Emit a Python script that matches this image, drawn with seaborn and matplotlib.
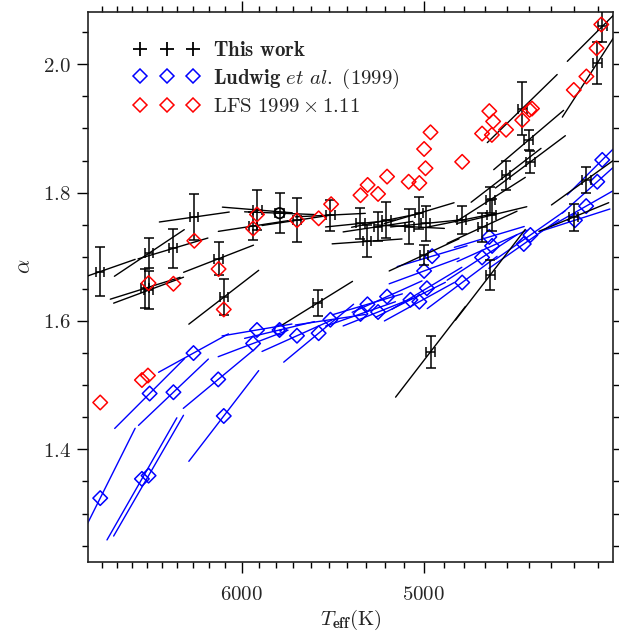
import numpy as np
import pandas as pd
import matplotlib
matplotlib.use("Agg")
import matplotlib.pyplot as plt
import seaborn as sns
from matplotlib.ticker import FixedLocator, FuncFormatter, NullFormatter, MultipleLocator
from matplotlib.lines import Line2D

# ---------------- data ----------------
# "This work": Teff, alpha, alpha error, Teff error, local slope d(alpha)/d(log10 Teff)
tw_teff = [6914, 6582, 6428, 6292, 6609, 6587, 6141, 6109, 5907, 5931, 5777, 5677,
           5490, 5561, 4530, 4501, 4493, 4604, 4202, 4181, 4248, 4677, 5327, 5292,
           5234, 5190, 5072, 5023, 4991, 4998, 4814, 4716, 4670, 4677, 4966, 4302]
tw_alpha = [1.677, 1.706, 1.713, 1.762, 1.651, 1.648, 1.697, 1.637, 1.773, 1.748, 1.768, 1.757,
            1.765, 1.628, 1.931, 1.882, 1.848, 1.827, 2.002, 2.059, 1.820, 1.789, 1.752, 1.724,
            1.747, 1.757, 1.747, 1.768, 1.752, 1.703, 1.757, 1.746, 1.765, 1.672, 1.552, 1.762]
tw_alpha_err = [0.038, 0.023, 0.030, 0.036, 0.030, 0.030, 0.026, 0.028, 0.031, 0.022, 0.031, 0.034,
                0.024, 0.020, 0.041, 0.016, 0.017, 0.023, 0.033, 0.025, 0.020, 0.020, 0.024, 0.025,
                0.023, 0.028, 0.027, 0.025, 0.027, 0.016, 0.022, 0.023, 0.025, 0.023, 0.025, 0.021]
tw_teff_err = [28, 27, 27, 26, 27, 27, 26, 26, 25, 25, 24, 24,
               23, 23, 20, 20, 20, 20, 19, 19, 19, 21, 22, 22,
               22, 22, 21, 21, 21, 21, 21, 21, 21, 21, 21, 19]
tw_slope = [-1.25, -2.39, -1.07, -0.51, -1.12, -1.33, -1.39, -2.76, 0.29, -0.55, 0.14, -0.54,
            -0.18, -2.22, -3.49, -3.04, -2.68, -2.76, -5.55, -3.58, -2.58, -2.29, -0.36, -0.25,
            -0.54, -0.72, 0.18, -1.07, -0.36, -1.65, -0.72, -1.65, -0.86, -4.65, -4.65, -1.47]

# Ludwig et al. (1999)
lu_teff = [6914, 6631, 6587, 6580, 6425, 6143, 6109, 6297, 5909, 5932, 5777, 5677, 5555,
           5490, 5327, 5290, 5234, 5187, 5067, 5022, 4984, 4998, 4958, 4811, 4716, 4682,
           4669, 4523, 4493, 4297, 4249, 4202, 4181]
lu_alpha = [1.324, 1.354, 1.359, 1.487, 1.489, 1.509, 1.452, 1.550, 1.586, 1.565, 1.586, 1.577, 1.581,
            1.602, 1.611, 1.626, 1.614, 1.638, 1.633, 1.630, 1.651, 1.678, 1.701, 1.660, 1.699, 1.731,
            1.717, 1.720, 1.734, 1.757, 1.779, 1.817, 1.851]
lu_slope = [-7.16, -6.26, -6.19, -3.58, -3.40, -2.97, -4.65, -1.97, -0.61, -1.36, -0.86, -1.61, -2.97,
            -0.54, -1.25, -1.07, -1.43, -1.61, -1.79, -1.97, -2.15, -1.32, -1.07, -2.68, -2.33, -1.07,
            -1.61, -2.50, -2.50, -1.15, -2.04, -3.22, -3.58]

# LFS 1999 x 1.11
lfs_teff = [6914, 6631, 6591, 6587, 6425, 6292, 6141, 6109, 5909, 5932, 5677, 5555, 5486,
            5327, 5289, 5234, 5187, 5076, 5022, 4991, 4998, 4966, 4811, 4716, 4670, 4682,
            4664, 4604, 4530, 4497, 4486, 4302, 4248, 4205, 4185]
lfs_alpha = [1.473, 1.508, 1.515, 1.659, 1.658, 1.725, 1.681, 1.618, 1.766, 1.744, 1.757, 1.760, 1.782,
             1.796, 1.812, 1.798, 1.825, 1.817, 1.815, 1.838, 1.868, 1.894, 1.848, 1.892, 1.890, 1.927,
             1.911, 1.898, 1.913, 1.929, 1.931, 1.960, 1.981, 2.025, 2.062]

SUN_TEFF = 5777
SUN_ALPHA_TW = 1.768
SUN_ALPHA_LU = 1.586
SEG_HALF_DEX = 0.0152   # half length of each slope segment in log10(Teff)

x_major = [5000, 6000]
x_minor = [4200, 4300, 4400, 4500, 4600, 4700, 4800, 4900, 5100, 5200, 5300, 5400,
           5500, 5600, 5700, 5800, 5900, 6100, 6200, 6300, 6400, 6500, 6600, 6700, 6800, 6900]
y_major = [1.4, 1.6, 1.8, 2.0]

legend_labels = [r"$\mathbf{This\ work}$",
                 r"$\mathbf{Ludwig}\ et\ al.\ \mathrm{(1999)}$",
                 r"$\mathrm{LFS\ 1999\times1.11}$"]

# ---------------- style ----------------
sns.set_style("ticks")
plt.rcParams["font.family"] = ["DejaVu Serif"]
plt.rcParams["mathtext.fontset"] = "cm"


def segments(teff, alpha, slope):
    rows = []
    for i, (t, a, k) in enumerate(zip(teff, alpha, slope)):
        for d in (-SEG_HALF_DEX, SEG_HALF_DEX):
            rows.append({"seg": i, "teff": t * 10 ** d, "alpha": a + k * d})
    return pd.DataFrame(rows)


fig = plt.figure(figsize=(6.19, 6.31), dpi=100)
ax = fig.add_axes([88.3 / 619, 1 - 562.3 / 631, 525 / 619, 550 / 631])
ax.set_xscale("log")

# Ludwig segments + markers
sns.lineplot(data=segments(lu_teff, lu_alpha, lu_slope), x="teff", y="alpha", units="seg",
             estimator=None, sort=False, color="blue", lw=1.0, ax=ax, legend=False, zorder=2)
sns.scatterplot(x=lu_teff, y=lu_alpha, marker="D", s=55, ax=ax, legend=False, zorder=3)
c = ax.collections[-1]
c.set_facecolor("none"); c.set_edgecolor("blue"); c.set_linewidth(1.1)

# This work segments + error bars
sns.lineplot(data=segments(tw_teff, tw_alpha, tw_slope), x="teff", y="alpha", units="seg",
             estimator=None, sort=False, color="black", lw=1.0, ax=ax, legend=False, zorder=4)
ax.errorbar(tw_teff, tw_alpha, yerr=tw_alpha_err, xerr=tw_teff_err, fmt="none",
            ecolor="black", elinewidth=1.1, capsize=3.7, capthick=1.1, zorder=5)

# LFS markers
sns.scatterplot(x=lfs_teff, y=lfs_alpha, marker="D", s=55, ax=ax, legend=False, zorder=6)
c = ax.collections[-1]
c.set_facecolor("none"); c.set_edgecolor("red"); c.set_linewidth(1.1)

# Sun symbols
sns.scatterplot(x=[SUN_TEFF], y=[SUN_ALPHA_TW], marker="o", s=55, ax=ax, legend=False, zorder=7)
c = ax.collections[-1]
c.set_facecolor("none"); c.set_edgecolor("black"); c.set_linewidth(1.3)
sns.scatterplot(x=[SUN_TEFF], y=[SUN_ALPHA_LU], marker="o", s=50, ax=ax, legend=False, zorder=7)
c = ax.collections[-1]
c.set_facecolor("none"); c.set_edgecolor("blue"); c.set_linewidth(1.2)
sns.scatterplot(x=[SUN_TEFF], y=[SUN_ALPHA_LU], marker="o", s=4, color="blue", ax=ax,
                legend=False, zorder=7, linewidth=0)

ax.set_xlim(6997, 4135)
ax.set_ylim(1.224, 2.081)

# ticks
ax.xaxis.set_major_locator(FixedLocator(x_major))
ax.xaxis.set_minor_locator(FixedLocator(x_minor))
ax.xaxis.set_major_formatter(FuncFormatter(lambda v, p: r"$%d$" % v))
ax.xaxis.set_minor_formatter(NullFormatter())
ax.yaxis.set_major_locator(FixedLocator(y_major))
ax.yaxis.set_minor_locator(MultipleLocator(0.05))
ax.yaxis.set_major_formatter(FuncFormatter(lambda v, p: r"$%.1f$" % v))
ax.tick_params(which="both", direction="out", top=True, right=True, width=1.0, color="black")
ax.tick_params(which="major", length=8, labelsize=15)
ax.tick_params(axis="x", which="major", pad=8)
ax.tick_params(axis="y", which="major", pad=4.5)
ax.tick_params(which="minor", length=4)
for sp in ax.spines.values():
    sp.set_linewidth(1.2)
    sp.set_color("#222222")

ax.set_xlabel(r"$T_{\mathbf{eff}}\mathrm{(K)}$", fontsize=15, labelpad=3)
ax.set_ylabel(r"$\alpha$", fontsize=16)
ax.yaxis.set_label_coords(-0.102, 0.539)

handles = [Line2D([], [], marker="+", ls="none", color="black", ms=9.5, mew=1.3),
           Line2D([], [], marker="D", ls="none", mfc="none", mec="blue", ms=7.4, mew=1.1),
           Line2D([], [], marker="D", ls="none", mfc="none", mec="red", ms=7.4, mew=1.1)]
ax.legend(handles, legend_labels, loc="upper left", bbox_to_anchor=(0.0867, 0.948),
          frameon=False, numpoints=3, handlelength=3.15, handletextpad=0.66,
          labelspacing=0.32, borderpad=0, borderaxespad=0, fontsize=15)

fig.savefig("out.png", dpi=100)
